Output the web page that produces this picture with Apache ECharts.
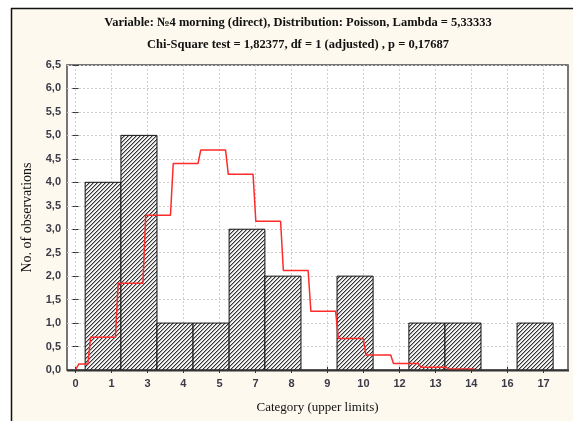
<!DOCTYPE html>
<html><head><meta charset="utf-8">
<script src="https://cdn.jsdelivr.net/npm/echarts@6/dist/echarts.min.js"></script>
<style>html,body{margin:0;padding:0;background:#fff}#c{width:573px;height:421px}</style>
</head><body><div id="c"></div>
<script>
// X tick positions (bin boundaries) and their printed labels (upper limits)
const tickPositions = [0, 1.31, 2.62, 3.92, 5.23, 6.54, 7.85, 9.15, 10.46, 11.77, 13.08, 14.38, 15.69, 17];
const tickLabels = ['0', '1', '3', '4', '5', '7', '8', '9', '10', '12', '13', '14', '16', '17'];
// Histogram bins (edges) and observed counts
const binEdges = [0.35, 1.65, 2.96, 4.27, 5.58, 6.88, 8.19, 9.50, 10.81, 12.11, 13.42, 14.73, 16.04, 17.35];
const observed = [4, 5, 1, 1, 3, 2, 0, 2, 0, 1, 1, 0, 1];
// Expected (Poisson) frequencies per integer value
const expectedK = [0, 1, 2, 3, 4, 5, 6, 7, 8, 9, 10, 11, 12, 13, 14];
const expected = [0.13, 0.70, 1.85, 3.30, 4.40, 4.69, 4.17, 3.17, 2.12, 1.25, 0.67, 0.32, 0.14, 0.06, 0.02];

const title1 = 'Variable: №4 morning (direct), Distribution: Poisson, Lambda = 5,33333';
const title2 = 'Chi-Square test = 1,82377, df = 1 (adjusted) , p = 0,17687';

// hatch pattern
const pc = document.createElement('canvas'); pc.width = 4; pc.height = 4;
const g = pc.getContext('2d');
g.fillStyle = '#f2f2f2'; g.fillRect(0, 0, 4, 4);
g.fillStyle = '#a8a8a8';
for (let i = 0; i < 4; i++) g.fillRect(i, (4 - i) % 4, 1, 1);
g.fillStyle = '#333333';
for (let i = 0; i < 4; i++) g.fillRect(i, 3 - i, 1, 1);

// red step line points
const redPts = [[0, 0]];
expectedK.forEach((k, i) => {
  const xs = k === 0 ? 0.12 : k - 0.45;
  const xe = k === expectedK[expectedK.length - 1] ? k + 0.5 : k + 0.45;
  redPts.push([xs, expected[i]], [xe, expected[i]]);
});

const chart = echarts.init(document.getElementById('c'), null, {renderer: 'canvas'});
const serif = '"Liberation Serif", "Times New Roman", serif';
const sans = '"Liberation Sans", Arial, sans-serif';
const fmtY = v => v.toFixed(1).replace('.', ',');

chart.setOption({
  backgroundColor: '#fdf9ee',
  animation: false,
  grid: {left: 67, right: 5, top: 65, bottom: 51, show: true, backgroundColor: '#ffffff', borderColor: '#4a4a4a', borderWidth: 1.5},
  graphic: [
    {type: 'rect', shape: {x: 0, y: 0, width: 573, height: 8}, style: {fill: '#fff'}, silent: true},
    {type: 'rect', shape: {x: 0, y: 0, width: 11, height: 421}, style: {fill: '#fff'}, silent: true},
    {type: 'line', shape: {x1: 11, y1: 8.5, x2: 573, y2: 8.5}, style: {stroke: '#111', lineWidth: 1.5}, silent: true},
    {type: 'line', shape: {x1: 11.5, y1: 8, x2: 11.5, y2: 421}, style: {stroke: '#111', lineWidth: 1.5}, silent: true},
    {type: 'line', shape: {x1: 568, y1: 65, x2: 568, y2: 371}, style: {stroke: '#777', lineWidth: 2}, silent: true, z: 100},
    {type: 'line', shape: {x1: 67, y1: 370.5, x2: 569, y2: 370.5}, style: {stroke: '#333', lineWidth: 2}, silent: true, z: 100},
    {type: 'text', x: 298, y: 23, style: {text: title1, font: 'bold 12.5px ' + serif, fill: '#111', textAlign: 'center', textVerticalAlign: 'middle'}},
    {type: 'text', x: 298, y: 45, style: {text: title2, font: 'bold 12.5px ' + serif, fill: '#111', textAlign: 'center', textVerticalAlign: 'middle'}}
  ],
  xAxis: [{
    type: 'value', min: -0.309, max: 17.89,
    name: 'Category (upper limits)', nameLocation: 'middle', nameGap: 31,
    nameTextStyle: {fontFamily: serif, fontSize: 13, color: '#111'},
    axisLine: {show: false},
    axisTick: {show: true, inside: true, length: 3, customValues: tickPositions, lineStyle: {color: '#333'}},
    axisLabel: {customValues: tickPositions, formatter: v => tickLabels[tickPositions.indexOf(v)], margin: 8, fontFamily: sans, fontSize: 11, fontWeight: 'bold', color: '#3a3a48'},
    splitLine: {show: true, lineStyle: {color: '#cfcfcf', type: [2, 2], width: 1}}
  }, {
    type: 'value', position: 'top', min: -0.309, max: 17.89,
    axisLine: {show: false},
    axisTick: {show: true, inside: true, length: 3, customValues: tickPositions, lineStyle: {color: '#333'}},
    axisLabel: {show: false}, splitLine: {show: false}
  }],
  yAxis: [{
    type: 'value', min: 0, max: 6.5, interval: 0.5,
    name: 'No. of observations', nameLocation: 'middle', nameGap: 32,
    nameTextStyle: {fontFamily: serif, fontSize: 14, color: '#111'},
    axisLine: {show: false},
    axisTick: {show: true, inside: true, length: 3, lineStyle: {color: '#333'}},
    axisLabel: {formatter: fmtY, margin: 6, fontFamily: sans, fontSize: 11, fontWeight: 'bold', color: '#3a3a48'},
    splitLine: {show: true, lineStyle: {color: '#cfcfcf', type: [2, 2], width: 1}}
  }, {
    type: 'value', position: 'right', min: 0, max: 6.5, interval: 0.5,
    axisLine: {show: false},
    axisTick: {show: true, inside: true, length: 3, lineStyle: {color: '#333'}},
    axisLabel: {show: false}, splitLine: {show: false}
  }],
  series: [{
    type: 'custom',
    xAxisIndex: 0, yAxisIndex: 0,
    encode: {x: [0, 1], y: 2},
    data: observed.map((v, i) => [binEdges[i], binEdges[i + 1], v]),
    renderItem: (params, api) => {
      const v = api.value(2);
      if (!v) return null;
      const p0 = api.coord([api.value(0), v]);
      const p1 = api.coord([api.value(1), 0]);
      return {type: 'rect', shape: {x: p0[0], y: p0[1], width: p1[0] - p0[0], height: p1[1] - p0[1]},
        style: {fill: {image: pc, repeat: 'repeat'}, stroke: '#111', lineWidth: 1}};
    },
    z: 2
  }, {
    type: 'line', xAxisIndex: 0, yAxisIndex: 0,
    data: redPts, showSymbol: false, symbol: 'none',
    lineStyle: {color: '#ff2a2a', width: 1.5}, z: 5
  }]
});
</script></body></html>
